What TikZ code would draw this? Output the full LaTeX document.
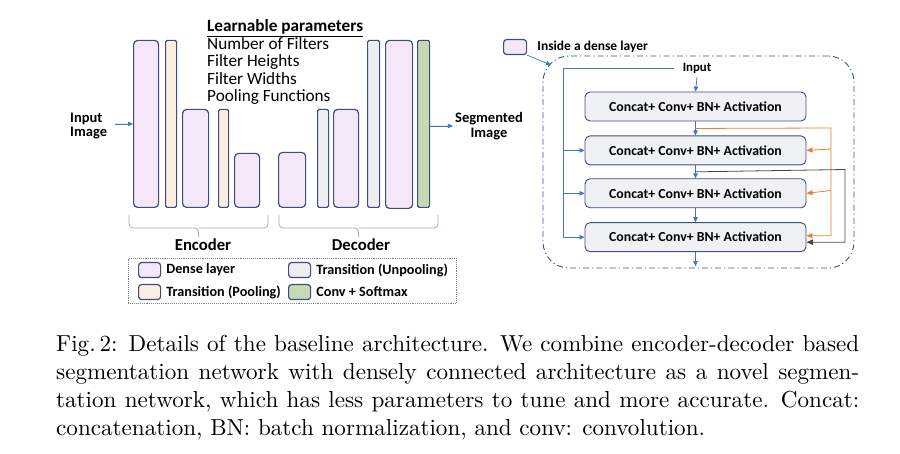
\documentclass[tikz,border=0pt]{standalone}
\usepackage{fontspec}
\usepackage{graphicx}
\newfontfamily\calfont{Carlito}
\usepackage{tikz}
\usetikzlibrary{arrows.meta,positioning,calc}
\definecolor{barline}{RGB}{62,78,122}
\definecolor{densefill}{RGB}{243,231,248}
\definecolor{poolfill}{RGB}{250,238,226}
\definecolor{unpoolfill}{RGB}{236,238,241}
\definecolor{softfill}{RGB}{198,217,178}
\definecolor{boxfill}{RGB}{240,241,244}
\definecolor{flowblue}{RGB}{68,114,196}
\definecolor{skiporange}{RGB}{237,125,49}
\definecolor{skipgray}{RGB}{70,70,70}
\definecolor{bracecol}{RGB}{150,172,214}
\definecolor{dashcol}{RGB}{47,85,151}
\tikzset{
  bar/.style={
    draw=barline,
    line width=1.2pt,
    rounded corners=3pt,
    inner sep=0pt,
    anchor=south west
  },
  dense/.style={bar,fill=densefill,rounded corners=4pt},
  pool/.style={bar,fill=poolfill,rounded corners=1.5pt},
  unpool/.style={bar,fill=unpoolfill,rounded corners=1.5pt},
  soft/.style={bar,fill=softfill,rounded corners=1.5pt},
  swatch/.style={bar,anchor=north west,minimum width=22pt,minimum height=15pt,rounded corners=3pt},
  lbl/.style={font=\calfont\bfseries\fontsize{14.5}{14.5}\selectfont,inner sep=0pt},
  legtext/.style={font=\calfont\bfseries\fontsize{14.2}{16}\selectfont,anchor=west,inner sep=0pt},
  layerbox/.style={
    draw=barline,
    fill=boxfill,
    line width=0.9pt,
    rounded corners=5pt,
    minimum width=221pt,
    minimum height=29pt,
    inner sep=0pt,
    font=\calfont\bfseries\fontsize{13.8}{16}\selectfont
  },
  flow/.style={-{Triangle[length=5pt,width=4.5pt]},draw=flowblue,fill=flowblue,line width=0.7pt},
  flowline/.style={draw=flowblue,line width=0.7pt},
  skipo/.style={-{Triangle[length=6pt,width=5pt]},draw=skiporange,line width=0.8pt},
  skipg/.style={-{Triangle[length=6.5pt,width=5.5pt]},draw=skipgray,line width=0.8pt},
  bracestyle/.style={draw=bracecol,line width=0.8pt,rounded corners=4pt}
}

\begin{document}
\begin{tikzpicture}[x=1pt,y=-1pt]
  \useasboundingbox (0,0) rectangle (900,454);
  % encoder / decoder columns
  \node[dense, minimum width=25pt, minimum height=167pt] (e1) at (133,208) {};
  \node[pool, minimum width=11pt, minimum height=167pt] (e2) at (165,208) {};
  \node[dense, minimum width=26pt, minimum height=98pt] (e3) at (182,208) {};
  \node[pool, minimum width=10pt, minimum height=98pt] (e4) at (218,208) {};
  \node[dense, minimum width=25pt, minimum height=54pt] (e5) at (234,208) {};
  \node[dense, minimum width=27pt, minimum height=55pt] (d1) at (278,208) {};
  \node[unpool, minimum width=11pt, minimum height=98pt] (d2) at (317,208) {};
  \node[dense, minimum width=25pt, minimum height=98pt] (d3) at (333,208) {};
  \node[unpool, minimum width=12pt, minimum height=167pt] (d4) at (367,208) {};
  \node[dense, minimum width=27pt, minimum height=168pt] (d5) at (385,209) {};
  \node[soft, minimum width=12pt, minimum height=167pt] (d6) at (417,208) {};

  \node[lbl, align=left, anchor=west] (inimg) at (70,126) {Input\\Image};
  \node[lbl, align=center] (segimg) at (489,126) {Segmented\\Image};
  \draw[flow] ([xshift=8pt]inimg.east |- e1.west) -- (e1.west);
  \draw[flow] (d6.east |- segimg.west) -- ([xshift=-2pt]segimg.west);

  \node[anchor=north west, align=left, inner sep=0pt,
        font=\calfont\fontsize{17.2}{17.5}\selectfont] (params) at (207,19.5)
    {\textbf{\underline{Learnable parameters}}\\Number of Filters\\Filter Heights\\Filter Widths\\Pooling Functions};

  % braces
  \coordinate (encmid) at (198.5,228);
  \coordinate (decmid) at (358.5,228);
  \draw[bracestyle] (129,215) |- (encmid) -- ++(0,9);
  \draw[bracestyle] (268,215) |- (encmid);
  \draw[bracestyle] (279,215) |- (decmid) -- ++(0,9);
  \draw[bracestyle] (438,215) |- (decmid);
  \node[font=\calfont\bfseries\fontsize{16.7}{18}\selectfont] (enc) at (203,245) {Encoder};
  \node[font=\calfont\bfseries\fontsize{16.7}{18}\selectfont] (dec) at (361,245) {Decoder};

  % legend
  \node[draw=barline!70, densely dotted, line width=0.9pt, minimum width=328pt,
        minimum height=45pt, inner sep=0pt, anchor=north west] (leg) at (128,258) {};
  \node[swatch, fill=densefill] (k1) at (138,262) {};
  \node[legtext, right=5pt of k1] (t1) {Dense layer};
  \node[swatch, fill=poolfill] (k2) at (138,284) {};
  \node[legtext, right=5pt of k2] (t2) {Transition (Pooling)};
  \node[swatch, fill=unpoolfill] (k3) at (288,262) {};
  \node[legtext, right=5pt of k3] (t3) {Transition (Unpooling)};
  \node[swatch, fill=softfill] (k4) at (288,284) {};
  \node[legtext, right=5pt of k4] (t4) {Conv + Softmax};

  % inside a dense layer
  \node[swatch, fill=densefill, minimum width=23pt] (k0) at (503,39) {};
  \node[legtext, font=\calfont\bfseries\fontsize{13.5}{15}\selectfont, right=10pt of k0] (t0) {Inside a dense layer};
  \node[draw=dashcol, line width=0.9pt, dash pattern=on 6pt off 3pt on 1.2pt off 3pt,
        rounded corners=26pt, minimum width=311pt, minimum height=212pt,
        inner sep=0pt] (dbox) at (698.5,162) {};
  \coordinate (corner) at (551,65);
  \draw[flowline, -{Triangle[length=5pt,width=4.5pt]}] (k0.south east) -- (corner);

  \node[legtext, font=\calfont\bfseries\fontsize{12.8}{14}\selectfont, anchor=center] (in) at (697,68) {Input};
  \node[layerbox] (L1) at (695.5,106.5) {Concat+ Conv+ BN+ Activation};
  \node[layerbox, below=14pt of L1] (L2) {Concat+ Conv+ BN+ Activation};
  \node[layerbox, below=13pt of L2] (L3) {Concat+ Conv+ BN+ Activation};
  \node[layerbox, below=14pt of L3] (L4) {Concat+ Conv+ BN+ Activation};
  \coordinate (out) at ($(L4.south)+(0,14)$);

  \draw[flow] ([yshift=-4pt]in.south) -- (L1.north);
  \draw[flow] (L1.south) -- (L2.north);
  \draw[flow] (L2.south) -- (L3.north);
  \draw[flow] (L3.south) -- (L4.north);
  \draw[flow] (L4.south) -- (out);

  % bypass from the input
  \coordinate (lb) at (563,68);
  \draw[flowline] ([xshift=-9pt]in.west) -- (lb) -- (lb |- L4.west);
  \draw[flow] (lb |- L2.west) -- (L2.west);
  \draw[flow] (lb |- L3.west) -- (L3.west);
  \draw[flow] (lb |- L4.west) -- (L4.west);

  % dense skips
  \coordinate (o1) at ($(L1.south)!0.5!(L2.north)$);
  \coordinate (g1) at ($(L2.south)!0.5!(L3.north)$);
  \draw[skipo] (o1) -- (831,128) |- ([yshift=1.5pt]L4.east);
  \draw[skipo] (831,149) -- (L2.east);
  \draw[skipo] (831,190.5) -- (L3.east);
  \draw[skipg] (g1) -- (845,169.5) |- ([yshift=-5pt]L4.east);

  % caption
  \node[anchor=north west, inner sep=0pt] (cap) at (56,335.5)
    {\scalebox{2.311}{\parbox{347.5pt}{\fontsize{10}{12}\selectfont
      Fig.\,2: Details of the baseline architecture. We combine encoder-decoder based\linebreak
      segmentation network with densely connected architecture as a novel segmen-\linebreak
      tation network, which has less parameters to tune and more accurate. Concat:\linebreak
      concatenation, BN: batch normalization, and conv: convolution.}}};
\end{tikzpicture}
\end{document}
